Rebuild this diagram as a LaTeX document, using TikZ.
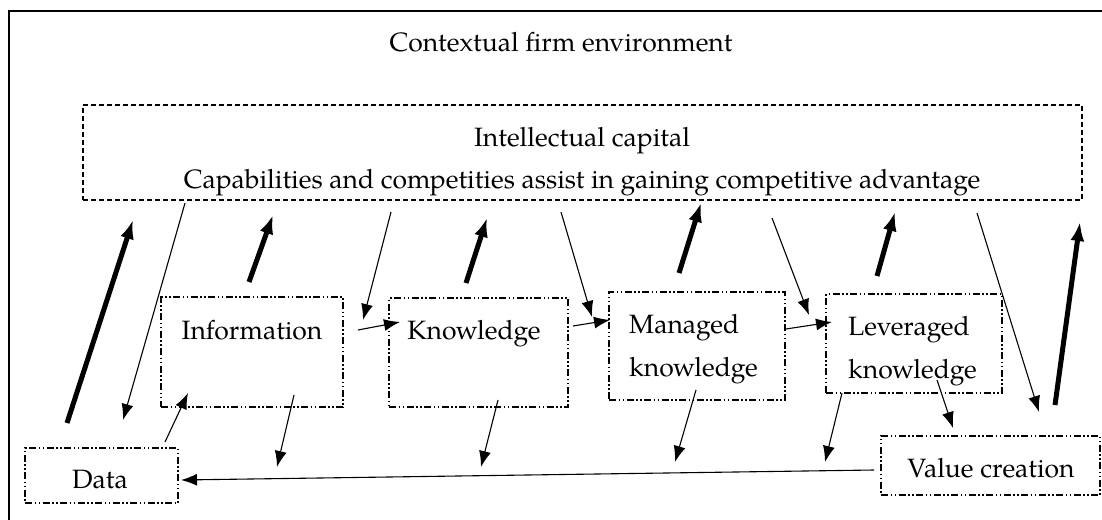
\documentclass[tikz,border=0pt]{standalone}
\usepackage{fontspec}
\setmainfont{TeX Gyre Pagella}
\usetikzlibrary{arrows.meta}
\tikzset{
  txt/.style={inner sep=0pt, font=\fontsize{26.5}{31}\selectfont},
  icbox/.style={draw, line width=1.1pt, dash pattern=on 5pt off 3pt, inner sep=0pt},
  kbox/.style={draw, line width=1.1pt, dash pattern=on 7pt off 2.5pt on 1.5pt off 2.5pt on 1.5pt off 2.5pt, inner sep=0pt},
  bigarrow/.style={line width=5pt, -{Latex[length=19pt,width=14pt]}},
  smallarrow/.style={line width=1.1pt, -{Latex[length=16pt,width=12pt]}},
  frameline/.style={line width=1.6pt}
}
\begin{document}
\begin{tikzpicture}[x=1pt,y=-1pt]
\useasboundingbox (0,0) rectangle (1102,519);
% outer frame
\draw[frameline] (1104,11) -- (9,11) -- (9,521);
\node[txt, anchor=base] (ctx) at (561,52) {Contextual firm environment};
% intellectual capital
\node[icbox, minimum width=999pt, minimum height=95pt] (ic) at (582.5,152.5) {};
\node[txt, anchor=base] (ict1) at (582,146) {Intellectual capital};
\node[txt, anchor=base] (ict2) at (582,188) {Capabilities and competities assist in gaining competitive advantage};
% boxes
\node[kbox, minimum width=182pt, minimum height=110pt] (info) at (252,352) {};
\node[kbox, minimum width=179pt, minimum height=109pt] (know) at (478.5,352.5) {};
\node[kbox, minimum width=176pt, minimum height=108pt] (man) at (697,346) {};
\node[kbox, minimum width=176pt, minimum height=99pt] (lev) at (914,343.5) {};
\node[kbox, minimum width=219pt, minimum height=59pt] (val) at (990.5,465.5) {};
\node[kbox, minimum width=153pt, minimum height=55pt] (data) at (101.5,475.5) {};
% texts
\node[txt, anchor=base] (infot) at (252,339) {Information};
\node[txt, anchor=base] (knowt) at (474,339) {Knowledge};
\node[txt, anchor=base west] (mant1) at (629,333) {Managed};
\node[txt, anchor=base west] (mant2) at (629,376) {knowledge};
\node[txt, anchor=base west] (levt1) at (848,335) {Leveraged};
\node[txt, anchor=base west] (levt2) at (848,378) {knowledge};
\node[txt, anchor=base] (valt) at (991,477) {Value creation};
\node[txt, anchor=base] (datat) at (100,488) {Data};
% coordinates for arrows
\coordinate (b1s) at (67,423);   \coordinate (b1e) at (133,220);
\coordinate (b2s) at (249,282);  \coordinate (b2e) at (273,215);
\coordinate (b3s) at (466,283);  \coordinate (b3e) at (487,218);
\coordinate (b4s) at (679,273);  \coordinate (b4e) at (701,203);
\coordinate (b5s) at (877,276);  \coordinate (b5e) at (895,212);
\coordinate (b6s) at (1055,405); \coordinate (b6e) at (1080,222);
\coordinate (t1s) at (185,203);  \coordinate (t1e) at (123,420);
\coordinate (t2s) at (391,212);  \coordinate (t2e) at (363,320);
\coordinate (t3s) at (561,212);  \coordinate (t3e) at (592,317);
\coordinate (t4s) at (772,218);  \coordinate (t4e) at (809,315);
\coordinate (t5s) at (977,213);  \coordinate (t5e) at (1039,412);
\coordinate (h1s) at (358,330);  \coordinate (h1e) at (400,322);
\coordinate (h2s) at (573,326);  \coordinate (h2e) at (610,320);
\coordinate (h3s) at (786,329);  \coordinate (h3e) at (832,322);
\coordinate (d0s) at (165,442);  \coordinate (d0e) at (188,393);
\coordinate (d1s) at (294,395);  \coordinate (d1e) at (277,467);
\coordinate (d2s) at (498,400);  \coordinate (d2e) at (481,467);
\coordinate (d3s) at (696,390);  \coordinate (d3e) at (675,462);
\coordinate (d4s) at (842,393);  \coordinate (d4e) at (825,462);
\coordinate (d5s) at (937,380);  \coordinate (d5e) at (953,428);
\coordinate (ls) at (874,470);   \coordinate (le) at (181,480);
% thick arrows
\foreach \n in {1,...,6} \draw[bigarrow] (b\n s) -- (b\n e);
% thin arrows
\foreach \n in {1,...,5} \draw[smallarrow] (t\n s) -- (t\n e);
\foreach \n in {1,2,3} \draw[smallarrow] (h\n s) -- (h\n e);
\foreach \n in {0,...,5} \draw[smallarrow] (d\n s) -- (d\n e);
\draw[smallarrow] (ls) -- (le);
\end{tikzpicture}
\end{document}
